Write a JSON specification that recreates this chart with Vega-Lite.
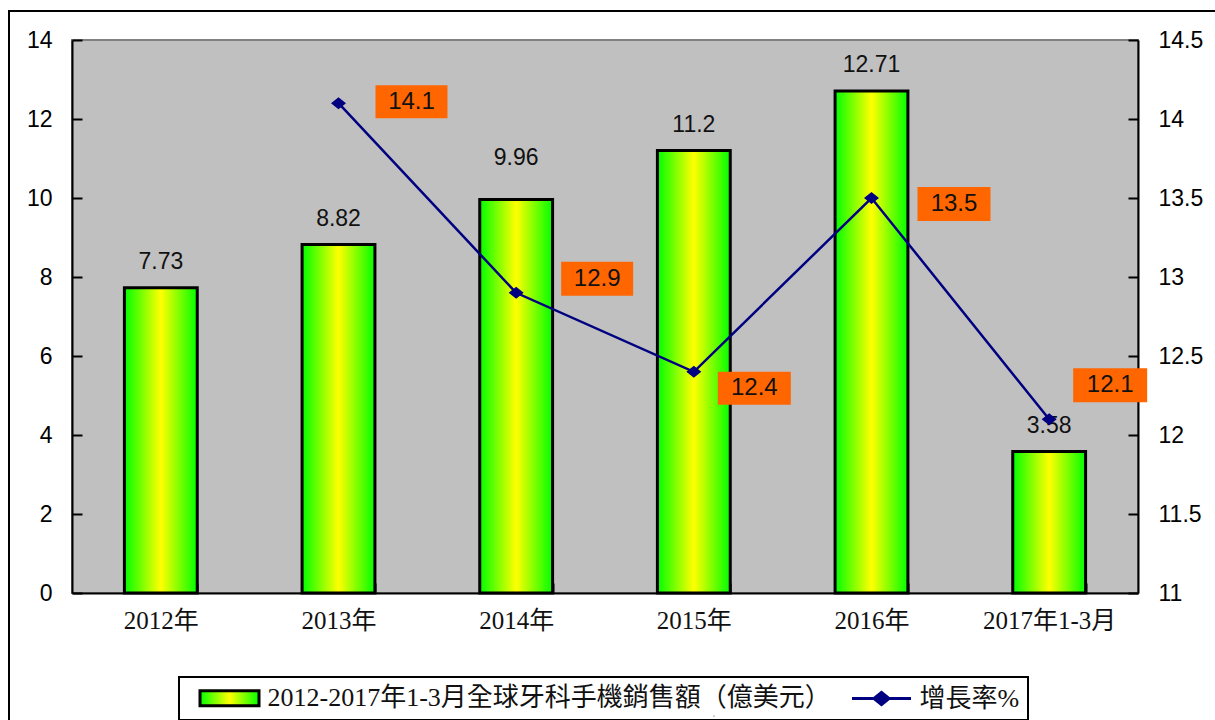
{
  "$schema": "https://vega.github.io/schema/vega-lite/v6.json",
  "width": 1066,
  "height": 553,
  "autosize": {"type": "none"},
  "padding": {"left": 72, "top": 40, "right": 77, "bottom": 127},
  "background": "white",
  "config": {
    "view": {"fill": "#C0C0C0", "stroke": "#808080", "strokeWidth": 2},
    "axis": {"domainColor": "black", "domainWidth": 2, "tickColor": "black", "tickWidth": 2, "labelColor": "black", "grid": false, "title": null},
    "legend": {"strokeWidth": 2}
  },
  "data": {
    "values": [
      {"year": "2012年", "sales": 7.73, "growth": null},
      {"year": "2013年", "sales": 8.82, "growth": 14.1},
      {"year": "2014年", "sales": 9.96, "growth": 12.9},
      {"year": "2015年", "sales": 11.2, "growth": 12.4},
      {"year": "2016年", "sales": 12.71, "growth": 13.5},
      {"year": "2017年1-3月", "sales": 3.58, "growth": 12.1}
    ]
  },
  "layer": [
    {
      "encoding": {
        "x": {"field": "year", "type": "nominal", "sort": null, "scale": {"paddingInner": 0.59, "paddingOuter": 0.295},
          "axis": {"orient": "bottom", "labelAngle": 0, "tickBand": "extent", "tickSize": -10, "labelPadding": 25, "labelFont": "Liberation Serif, Noto Sans CJK TC", "labelFontSize": 25, "labelColor": "#111"}},
        "y": {"field": "sales", "type": "quantitative", "scale": {"domain": [0, 14]},
          "axis": {"orient": "left", "values": [0, 2, 4, 6, 8, 10, 12, 14], "tickSize": -10, "labelPadding": 30, "labelFont": "Liberation Sans", "labelFontSize": 23}}
      },
      "layer": [
        {
          "mark": {"type": "bar", "strokeWidth": 3},
          "encoding": {
            "fill": {"datum": "2012-2017年1-3月全球牙科手機銷售額（億美元）", "type": "nominal",
              "scale": {"domain": ["2012-2017年1-3月全球牙科手機銷售額（億美元）", "增長率%"],
                "range": [{"expr": "{gradient: 'linear', x1: 0, y1: 0, x2: 1, y2: 0, stops: [{offset: 0, color: '#00FF00'}, {offset: 0.5, color: '#FFFF00'}, {offset: 1, color: '#00FF00'}]}"}, "#000080"]},
              "legend": {
                "orient": "none", "legendX": 107, "legendY": 637, "direction": "horizontal", "title": null,
                "strokeColor": "black", "fillColor": "white", "padding": 8,
                "labelFont": "Liberation Serif, Noto Sans CJK TC", "labelFontSize": 26, "labelColor": "#111", "labelLimit": 1000,
                "symbolSize": 400, "symbolOffset": 29.5, "labelOffset": 25, "columnPadding": 8, "symbolStrokeWidth": 3, "symbolOpacity": 1
              }
            },
            "stroke": {"datum": "2012-2017年1-3月全球牙科手機銷售額（億美元）", "type": "nominal",
              "scale": {"domain": ["2012-2017年1-3月全球牙科手機銷售額（億美元）", "增長率%"], "range": ["black", "#000080"]}}
          }
        },
        {
          "mark": {"type": "text", "baseline": "alphabetic", "font": "Liberation Sans", "fontSize": 23, "color": "#111",
            "dy": {"expr": "datum.year === '2014年' ? -35 : -19"}},
          "encoding": {
            "text": {"field": "sales", "type": "nominal"},
            "opacity": {"datum": "frame", "type": "ordinal", "scale": {"range": [1, 1]},
              "legend": {"orient": "none", "legendX": -63, "legendY": -29, "title": null, "padding": 700, "strokeColor": "black", "symbolOpacity": 0, "labelOpacity": 0, "symbolSize": 1}}
          }
        }
      ]
    },
    {
      "transform": [{"filter": "datum.growth != null"}],
      "encoding": {
        "x": {"field": "year", "type": "nominal", "sort": null},
        "y": {"field": "growth", "type": "quantitative", "scale": {"domain": [11, 14.5]},
          "axis": {"orient": "right", "values": [11, 11.5, 12, 12.5, 13, 13.5, 14, 14.5], "format": ".1~f", "tickSize": -10, "labelPadding": 30, "labelFont": "Liberation Sans", "labelFontSize": 23}}
      },
      "layer": [
        {"mark": {"type": "line", "strokeWidth": 2.5}, "encoding": {"stroke": {"datum": "增長率%", "type": "nominal"}}},
        {"mark": {"type": "point", "filled": true, "fill": "#000080", "opacity": 1, "size": 400, "strokeWidth": 0},
          "encoding": {"shape": {"datum": "增長率%", "type": "nominal",
            "scale": {"domain": ["2012-2017年1-3月全球牙科手機銷售額（億美元）", "增長率%"], "range": ["M-2.95,-0.75H2.95V0.75H-2.95Z", "M-2.95,0H2.95M0,-0.6L0.75,0L0,0.6L-0.75,0Z"]}}}},
        {"mark": {"type": "point", "filled": true, "fill": "#FF6600", "opacity": 1, "size": 4, "strokeWidth": 0,
          "shape": {"expr": "datum.year === '2013年' ? 'M37,-18H109V15H37Z' : datum.year === '2014年' ? 'M45,-31H117V3H45Z' : datum.year === '2015年' ? 'M24,0H97V33H24Z' : datum.year === '2016年' ? 'M46,-11H119V23H46Z' : 'M24,-51H98V-17H24Z'"}}},
        {"mark": {"type": "text", "font": "Liberation Sans", "fontSize": 24, "color": "#111", "align": "center", "baseline": "middle",
          "dx": {"expr": "datum.year === '2013年' ? 73 : datum.year === '2014年' ? 81 : datum.year === '2015年' ? 60.5 : datum.year === '2016年' ? 82.5 : 61"},
          "dy": {"expr": "datum.year === '2013年' ? -1.5 : datum.year === '2014年' ? -14 : datum.year === '2015年' ? 16.5 : datum.year === '2016年' ? 6 : -34"}},
          "encoding": {"text": {"field": "growth", "type": "nominal"}}}
      ]
    }
  ],
  "resolve": {"scale": {"y": "independent"}}
}
